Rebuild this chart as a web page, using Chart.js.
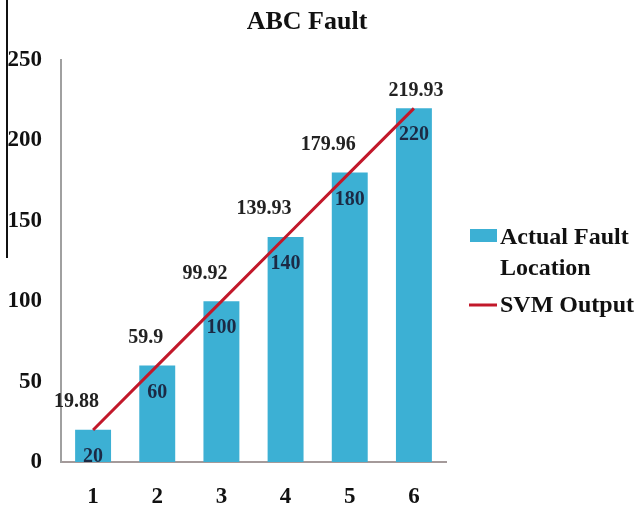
<!DOCTYPE html>
<html>
<head>
<meta charset="utf-8">
<script src="https://cdn.jsdelivr.net/npm/chart.js@4/dist/chart.umd.min.js"></script>
<style>
  body { margin: 0; background: #fff; }
  #wrap { position: relative; width: 644px; height: 515px; }
  #edge { position: absolute; left: 6px; top: 0; width: 2px; height: 258px; background: #111; }
</style>
</head>
<body>
<div id="wrap">
  <canvas id="chart" width="644" height="515"></canvas>
  <div id="edge"></div>
</div>
<script>
const categories = ['1', '2', '3', '4', '5', '6'];
const actualLocation = [20, 60, 100, 140, 180, 220];
const svmOutput = [19.88, 59.9, 99.92, 139.93, 179.96, 219.93];
const seriesNames = ['Actual Fault Location', 'SVM Output'];
const titleText = 'ABC Fault';

const serif = '"Liberation Serif", "Times New Roman", serif';
const barColor = '#3cb0d4';
const lineColor = '#c2182a';

// value labels, title and the wrapped legend are drawn by hand
const labelsPlugin = {
  id: 'labels',
  afterDatasetsDraw(chart) {
    const ctx = chart.ctx;
    ctx.save();
    ctx.font = 'bold 20px ' + serif;
    ctx.textBaseline = 'middle';

    // bar values, inside the top of each bar
    ctx.fillStyle = '#1c2a45';
    ctx.textAlign = 'center';
    chart.getDatasetMeta(1).data.forEach((bar, i) => {
      ctx.fillText(String(actualLocation[i]), bar.x, bar.y + 27);
    });

    // line values, up and to the left of each point
    ctx.fillStyle = '#222';
    const pts = chart.getDatasetMeta(0).data;
    pts.forEach((pt, i) => {
      if (i === pts.length - 1) {
        ctx.textAlign = 'center';
        ctx.fillText(String(svmOutput[i]), pt.x + 2, pt.y - 18);
      } else {
        ctx.textAlign = 'right';
        ctx.fillText(String(svmOutput[i]), pt.x + 6, pt.y - 28);
      }
    });

    // title
    ctx.fillStyle = '#111';
    ctx.textAlign = 'center';
    ctx.font = 'bold 26px ' + serif;
    ctx.fillText(titleText, 307, 22);

    // legend
    ctx.font = 'bold 24px ' + serif;
    ctx.textAlign = 'left';
    ctx.fillStyle = barColor;
    ctx.fillRect(470, 229, 27, 13);
    ctx.fillStyle = '#111';
    ctx.fillText('Actual Fault', 500, 238);
    ctx.fillText('Location', 500, 269);
    ctx.strokeStyle = lineColor;
    ctx.lineWidth = 3;
    ctx.beginPath();
    ctx.moveTo(469, 305);
    ctx.lineTo(497, 305);
    ctx.stroke();
    ctx.fillText('SVM Output', 500, 306);
    ctx.restore();
  }
};

new Chart(document.querySelector('#chart').getContext('2d'), {
  type: 'bar',
  data: {
    labels: categories,
    datasets: [
      {
        type: 'line',
        label: seriesNames[1],
        data: svmOutput,
        borderColor: lineColor,
        backgroundColor: lineColor,
        borderWidth: 3,
        pointRadius: 0,
        tension: 0,
        order: 0
      },
      {
        label: seriesNames[0],
        data: actualLocation,
        backgroundColor: barColor,
        categoryPercentage: 0.8,
        barPercentage: 0.7,
        order: 1
      }
    ]
  },
  options: {
    responsive: false,
    animation: false,
    layout: { padding: { top: 60, right: 198, bottom: 4, left: 7 } },
    plugins: {
      legend: { display: false },
      title: { display: false },
      tooltip: { enabled: false }
    },
    scales: {
      x: {
        grid: { display: false, drawTicks: false },
        border: { display: true, color: '#a49a9a', width: 2 },
        ticks: { color: '#111', font: { family: serif, size: 23, weight: 'bold' }, padding: 21 },
        afterFit(scale) { scale.height = 49; }
      },
      y: {
        min: 0,
        max: 250,
        grid: { display: false, drawTicks: false },
        border: { display: true, color: '#a0a0a0', width: 2 },
        ticks: { stepSize: 50, color: '#111', font: { family: serif, size: 23, weight: 'bold' }, padding: 19 },
        afterFit(scale) { scale.width = 54; }
      }
    }
  },
  plugins: [labelsPlugin]
});
</script>
</body>
</html>
